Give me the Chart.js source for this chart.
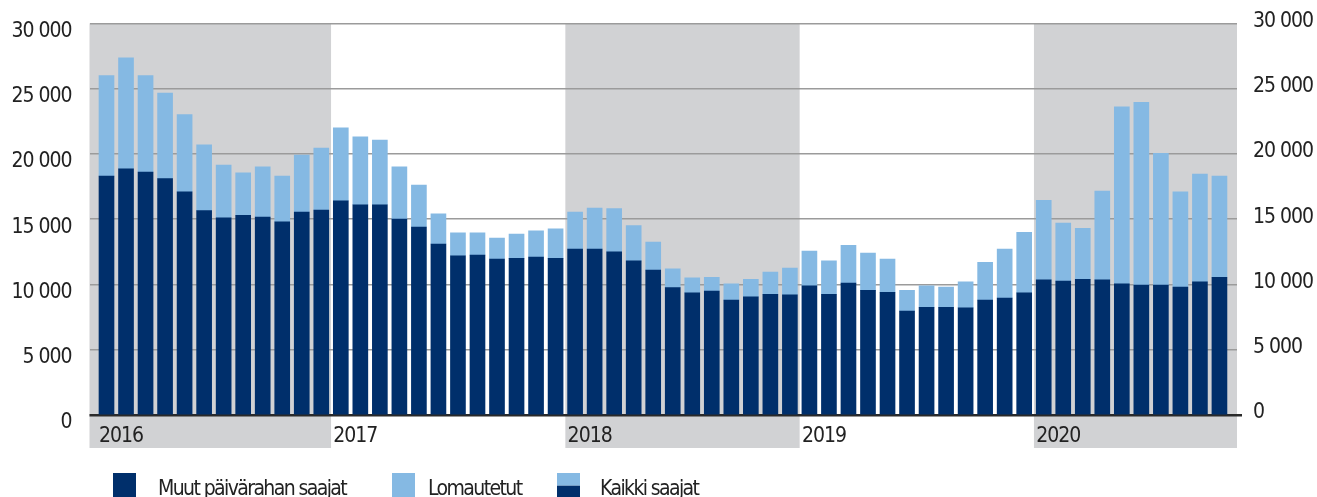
<!DOCTYPE html>
<html>
<head>
<meta charset="utf-8">
<script src="https://cdn.jsdelivr.net/npm/chart.js@4.4.1/dist/chart.umd.min.js"></script>
<style>
  html, body { margin: 0; padding: 0; background: #fff; overflow: hidden; }
  #wrap { width: 1317px; height: 497px; }
</style>
</head>
<body>
<div id="wrap"><canvas id="chart" width="1317" height="497"></canvas></div>
<script>
// Months Jan 2016 - Oct 2020
const years = ["2016", "2017", "2018", "2019", "2020"];
const grayYears = ["2016", "2018", "2020"];
const months = [];
years.forEach(y => {
  for (let m = 1; m <= 12; m++) {
    if (y === "2020" && m > 10) break;
    months.push(y + "-" + String(m).padStart(2, "0"));
  }
});

// Muut päivärahan saajat
const muut = [
  18300, 18850, 18600, 18100, 17100, 15650, 15100, 15300, 15150, 14800, 15550, 15700,
  16400, 16100, 16100, 15000, 14400, 13100, 12200, 12250, 11950, 12000, 12100, 12000,
  12700, 12700, 12500, 11800, 11100, 9750, 9350, 9500, 8800, 9050, 9250, 9200,
  9900, 9250, 10100, 9550, 9400, 7950, 8250, 8250, 8200, 8800, 8950, 9350,
  10350, 10250, 10400, 10350, 10050, 9950, 9950, 9800, 10200, 10550
];

// Lomautetut
const lomautetut = [
  7700, 8500, 7400, 6550, 5900, 5050, 4050, 3250, 3850, 3500, 4350, 4750,
  5600, 5200, 4950, 4000, 3200, 2300, 1750, 1700, 1600, 1850, 2000, 2250,
  2850, 3150, 3300, 2700, 2150, 1450, 1150, 1050, 1250, 1350, 1700, 2050,
  2650, 2550, 2900, 2850, 2550, 1600, 1650, 1550, 2000, 2900, 3750, 4650,
  6100, 4450, 3900, 6800, 13550, 14000, 10100, 7300, 8250, 7750
];

const yTicks = [0, 5000, 10000, 15000, 20000, 25000, 30000];

const DARK = "#002f6b";
const LIGHT = "#85b9e3";
const BAND = "#d1d2d4";
const TEXT = "#222222";
const FONT = "'DejaVu Sans Condensed', 'Liberation Sans Narrow', sans-serif";
const SPACING = "-1px";

Chart.defaults.font.family = FONT;
Chart.defaults.font.size = 21;
Chart.defaults.color = TEXT;

function fmt(v) {
  return String(v).replace(/\B(?=(\d{3})+(?!\d))/g, " ");
}

const yearStart = y => months.indexOf(y + "-01");

// tighter text, closer to the condensed face of the original
const spacingPlugin = {
  id: "spacing",
  beforeUpdate(chart) { chart.ctx.letterSpacing = SPACING; },
  beforeDraw(chart) { chart.ctx.letterSpacing = SPACING; }
};

// Gray bands behind every other year
const bandPlugin = {
  id: "bands",
  beforeDraw(chart) {
    const { ctx, chartArea, scales } = chart;
    const x = scales.x;
    ctx.save();
    ctx.fillStyle = BAND;
    grayYears.forEach(y => {
      const s = yearStart(y);
      const e = s + months.filter(m => m.startsWith(y)).length;
      const left = s === 0 ? chartArea.left : x.getPixelForValue(s - 0.5);
      const right = e === months.length ? chartArea.right : x.getPixelForValue(e - 0.5);
      ctx.fillRect(left, chartArea.top, right - left, chartArea.bottom + 33 - chartArea.top);
    });
    ctx.restore();
  }
};

// Legend along the bottom edge
const legendPlugin = {
  id: "bottomLegend",
  afterDraw(chart) {
    const ctx = chart.ctx;
    const top = 473, size = 23, h = 26;
    ctx.save();
    ctx.letterSpacing = "-1.6px";
    ctx.font = "21px " + FONT;
    ctx.textBaseline = "alphabetic";

    ctx.fillStyle = DARK;
    ctx.fillRect(113, top, size, h);
    ctx.fillStyle = TEXT;
    ctx.fillText("Muut päivärahan saajat", 158, 495);

    ctx.fillStyle = LIGHT;
    ctx.fillRect(392, top, size, h);
    ctx.fillStyle = TEXT;
    ctx.fillText("Lomautetut", 428, 495);

    ctx.fillStyle = LIGHT;
    ctx.fillRect(557, top, size, 12.7);
    ctx.fillStyle = DARK;
    ctx.fillRect(557, top + 12.7, size, h - 12.7);
    ctx.fillStyle = TEXT;
    ctx.fillText("Kaikki saajat", 600, 495);
    ctx.restore();
  }
};

const noPad = s => { s.paddingTop = 0; s.paddingBottom = 0; s.paddingLeft = 0; s.paddingRight = 0; };

new Chart(document.getElementById("chart"), {
  type: "bar",
  data: {
    datasets: [
      {
        label: "Muut päivärahan saajat",
        data: muut.map((v, i) => ({ x: i, y: v })),
        backgroundColor: DARK
      },
      {
        label: "Lomautetut",
        data: lomautetut.map((v, i) => ({ x: i, y: v })),
        backgroundColor: LIGHT
      }
    ]
  },
  options: {
    responsive: false,
    animation: false,
    devicePixelRatio: 1,
    layout: { padding: { top: 23.3, left: 0, right: 0, bottom: 0 } },
    datasets: { bar: { barThickness: 15, borderWidth: 0 } },
    plugins: { legend: { display: false }, tooltip: { enabled: false } },
    scales: {
      x: {
        type: "linear",
        stacked: true,
        offset: false,
        min: -0.8707,
        max: 57.899,
        grid: { display: false },
        border: { display: false },
        afterBuildTicks: s => { s.ticks = years.map(y => ({ value: yearStart(y) })); },
        afterFit: s => { s.height = 82; noPad(s); },
        ticks: {
          align: "start",
          labelOffset: -7.5,
          padding: 1,
          maxRotation: 0,
          autoSkip: false,
          callback: v => years[Math.round(v / 12)]
        }
      },
      y: {
        position: "left",
        stacked: true,
        min: 0,
        max: 30000,
        afterBuildTicks: s => { s.ticks = yTicks.map(v => ({ value: v })); },
        afterFit: s => { s.width = 89.5; noPad(s); },
        border: { display: false },
        grid: {
          drawTicks: false,
          color: c => c.tick.value === 0 ? "rgba(0,0,0,0)" : "#9b9b9b",
          lineWidth: 1.5
        },
        ticks: { padding: 18, labelOffset: 8, callback: v => fmt(v) }
      },
      y2: {
        position: "right",
        min: 0,
        max: 30000,
        z: 1,
        afterBuildTicks: s => { s.ticks = yTicks.map(v => ({ value: v })); },
        afterFit: s => { s.width = 80; noPad(s); },
        border: { display: false },
        grid: {
          drawTicks: true,
          tickLength: 5,
          color: c => c.tick.value === 0 ? "#2a2a2a" : "rgba(0,0,0,0)",
          lineWidth: 2.5
        },
        ticks: { padding: 11, labelOffset: -2, callback: v => fmt(v) }
      }
    }
  },
  plugins: [spacingPlugin, bandPlugin, legendPlugin]
});
</script>
</body>
</html>
